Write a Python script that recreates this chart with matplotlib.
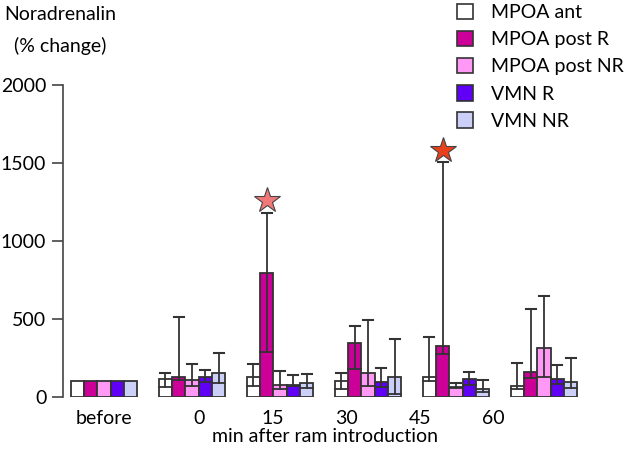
import numpy as np
import matplotlib.pyplot as plt
from matplotlib.patches import Patch

plt.rcParams['font.family'] = ['Lato', 'DejaVu Sans']

# groups along x
groups = ['before', '0', '15', '30', '45', '60']
series = ['MPOA ant', 'MPOA post R', 'MPOA post NR', 'VMN R', 'VMN NR']
colors = ['#ffffff', '#cc0099', '#ff99f5', '#6000f5', '#ccd0f8']

# bar height (% change), one list per series, one value per group
mpoa_ant = [100, 113, 130, 105, 126, 70]
mpoa_post_r = [100, 130, 793, 348, 327, 158]
mpoa_post_nr = [100, 109, 75, 152, 62, 312]
vmn_r = [100, 130, 75, 96, 113, 113]
vmn_nr = [100, 152, 88, 130, 53, 98]

# inner line (median)
mpoa_ant_med = [100, 62, 70, 51, 105, 53]
mpoa_post_r_med = [100, 109, 290, 177, 276, 120]
mpoa_post_nr_med = [100, 70, 49, 73, 55, 126]
vmn_r_med = [100, 96, 70, 66, 77, 83]
vmn_nr_med = [100, 88, 56, 19, 32, 60]

# top of whisker
mpoa_ant_hi = [None, 152, 212, 152, 383, 216]
mpoa_post_r_hi = [None, 511, 1177, 455, 1504, 562]
mpoa_post_nr_hi = [None, 212, 165, 494, 88, 647]
vmn_r_hi = [None, 171, 143, 184, 160, 203]
vmn_nr_hi = [None, 280, 147, 370, 109, 250]

# significance stars: (group, series, value, colour)
stars = [(2, 1, 1263, '#f07878'), (4, 1, 1583, '#e8401a')]

means = [mpoa_ant, mpoa_post_r, mpoa_post_nr, vmn_r, vmn_nr]
meds = [mpoa_ant_med, mpoa_post_r_med, mpoa_post_nr_med, vmn_r_med, vmn_nr_med]
highs = [mpoa_ant_hi, mpoa_post_r_hi, mpoa_post_nr_hi, vmn_r_hi, vmn_nr_hi]

fig = plt.figure(figsize=(6.29, 4.53), dpi=100)
ax = fig.add_axes([63 / 629, 56 / 453, 525 / 629, 312 / 453])

x = np.arange(len(groups))
w = 0.152
edge = '#333333'
for i in range(len(series)):
    xs = x + (i - 2) * w
    ax.bar(xs, means[i], width=w, color=colors[i], edgecolor=edge, linewidth=1.3, zorder=2)
    for j in range(len(groups)):
        if highs[i][j] is None:
            continue
        ax.plot([xs[j] - w / 2, xs[j] + w / 2], [meds[i][j]] * 2, color=edge, lw=1.3, zorder=3)
        ax.plot([xs[j]] * 2, [meds[i][j], highs[i][j]], color=edge, lw=1.3, zorder=3)
        ax.plot([xs[j] - w * 0.38, xs[j] + w * 0.38], [highs[i][j]] * 2, color=edge, lw=1.5, zorder=3)

for g, s, v, c in stars:
    ax.plot(x[g] + (s - 2) * w, v, marker='*', ms=19, color=c, mec='#444444', mew=0.8, zorder=4)

ax.set_xlim(-0.466, 5.5)
ax.set_ylim(0, 2000)
ax.set_yticks([0, 500, 1000, 1500, 2000])
ax.tick_params(axis='y', labelsize=14, length=8, width=1.2, color='#444444', pad=4)
ax.spines['left'].set_color('#444444')
ax.spines['left'].set_linewidth(1.2)
for s in ['top', 'right', 'bottom']:
    ax.spines[s].set_visible(False)

# labels sit a little left of the group centres, as in the original
label_pos = [0, 1.08, 1.92, 2.76, 3.59, 4.42]
ax.set_xticks(label_pos)
ax.set_xticklabels(groups, fontsize=14)
ax.tick_params(axis='x', length=0, pad=9)
ax.set_xlabel('min after ram introduction', fontsize=14, labelpad=1)

fig.text(60 / 629, 1 - 14 / 453, 'Noradrenalin', fontsize=14, ha='center', va='center')
fig.text(60 / 629, 1 - 46 / 453, '(% change)', fontsize=14, ha='center', va='center')

handles = [Patch(facecolor=c, edgecolor=edge, linewidth=1.2) for c in colors]
fig.legend(handles, series, loc='upper left', bbox_to_anchor=(445 / 629, 1.018), frameon=False,
           fontsize=14, handlelength=0.85, handleheight=0.85, labelspacing=0.5, handletextpad=0.9,
           borderaxespad=0.2)

fig.savefig('out.png', dpi=100)
